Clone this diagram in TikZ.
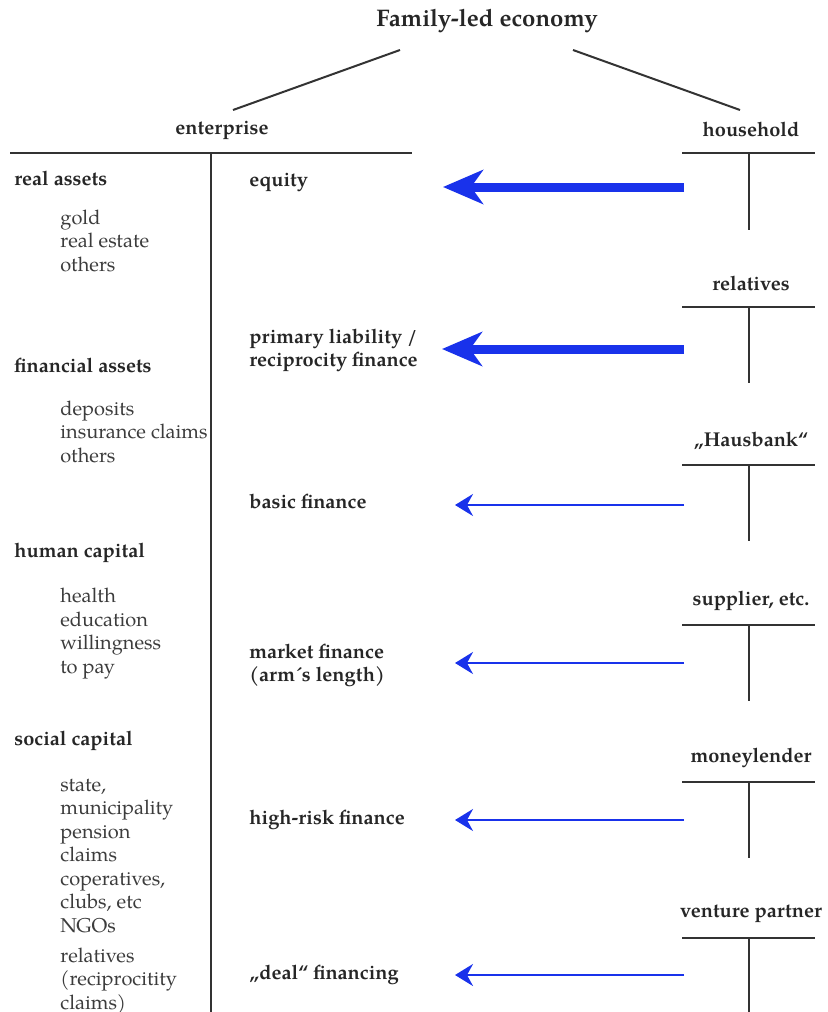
\documentclass[tikz,border=0pt]{standalone}
\usepackage{fontspec}
\setmainfont{texgyrepagella}[Extension=.otf, UprightFont=*-regular, BoldFont=*-bold, ItalicFont=*-italic, BoldItalicFont=*-bolditalic]
\usepackage{tikz}
\usetikzlibrary{arrows.meta,positioning}

\definecolor{flowblue}{RGB}{25,50,235}
\definecolor{ink}{RGB}{60,60,60}

\tikzset{
  plain/.style={font=\fontsize{10}{11.75}\selectfont, text=ink, inner sep=0pt, align=left},
  head/.style={font=\fontsize{10}{11.75}\selectfont\bfseries, text=black!85, inner sep=0pt, align=left},
  rule/.style={draw=black!80, line width=1pt},
  bigflow/.style={draw=flowblue, line width=4.5pt, -{Stealth[length=20pt,width=17pt,inset=6pt]}},
  smallflow/.style={draw=flowblue, line width=1pt, -{Stealth[length=9pt,width=11pt,inset=3pt]}},
}

\begin{document}
\begin{tikzpicture}[x=0.5pt,y=-0.5pt]
  \useasboundingbox (0,0) rectangle (827,1012);

  % Title and the two sides
  \node[head, font=\fontsize{12}{14}\selectfont\bfseries] (title) at (487,21) {Family-led economy};
  \coordinate (tl) at (400,50);
  \coordinate (tr) at (573,50);
  \coordinate (el) at (233,110);
  \coordinate (hr) at (740,110);
  \draw[rule] (tl) -- (el);
  \draw[rule] (tr) -- (hr);

  % Enterprise T-account
  \node[head] (ent) at (222,130) {enterprise};
  \draw[rule] (10,153) -- (412,153);
  \draw[rule] (211,153) -- (211,1012);

  % Assets (base = last line)
  \node[head, anchor=west] (real) at (14,178) {real assets};
  \node[plain, anchor=base west] (reall) at (60,271) {gold\\real estate\\others};
  \node[head, anchor=west] (fin) at (14,365) {financial assets};
  \node[plain, anchor=base west] (finl) at (60,462) {deposits\\insurance claims\\others};
  \node[head, anchor=west] (hum) at (14,553) {human capital};
  \node[plain, anchor=base west] (huml) at (60,673) {health\\education\\willingness\\to pay};
  \node[head, anchor=west] (soc) at (14,741) {social capital};
  \node[plain, anchor=base west] (socl) at (60,1009) {state,\\municipality\\pension\\claims\\coperatives,\\clubs, etc\\NGOs\\[3.25pt]relatives\\(reciprocitity\\claims)};

  % Liabilities
  \node[head, anchor=west] (eq) at (249,182) {equity};
  \node[head, anchor=west] (prim) at (249,350.5) {primary liability /\\reciprocity finance};
  \node[head, anchor=west] (basic) at (249,501) {basic finance};
  \node[head, anchor=west] (market) at (249,665.5) {market finance\\(arm´s length)};
  \node[head, anchor=west] (risk) at (249,819.5) {high-risk finance};
  \node[head, anchor=west] (deal) at (249,974.5) {„deal“ financing};

  % Lenders and their flows
  \foreach \acc/\txt/\ty/\by/\ay/\tip/\flow in {%
      hh/household/153/230/187/443/bigflow,
      rel/relatives/307/383/349/442/bigflow,
      hb/{„Hausbank“}/465/541/505/455/smallflow,
      sup/{supplier, etc.}/625/701/663/455/smallflow,
      ml/moneylender/782/858/820/455/smallflow,
      vp/venture partner/938/1012/975/455/smallflow}{
    \node[head] (\acc) at (751,\ty-24) {\txt};
    \draw[rule] (682,\ty) -- (815,\ty);
    \draw[rule] (749,\ty) -- (749,\by);
    \coordinate (\acc-out) at (684,\ay);
    \coordinate (\acc-in) at (\tip,\ay);
    \draw[\flow] (\acc-out) -- (\acc-in);
  }
\end{tikzpicture}
\end{document}
